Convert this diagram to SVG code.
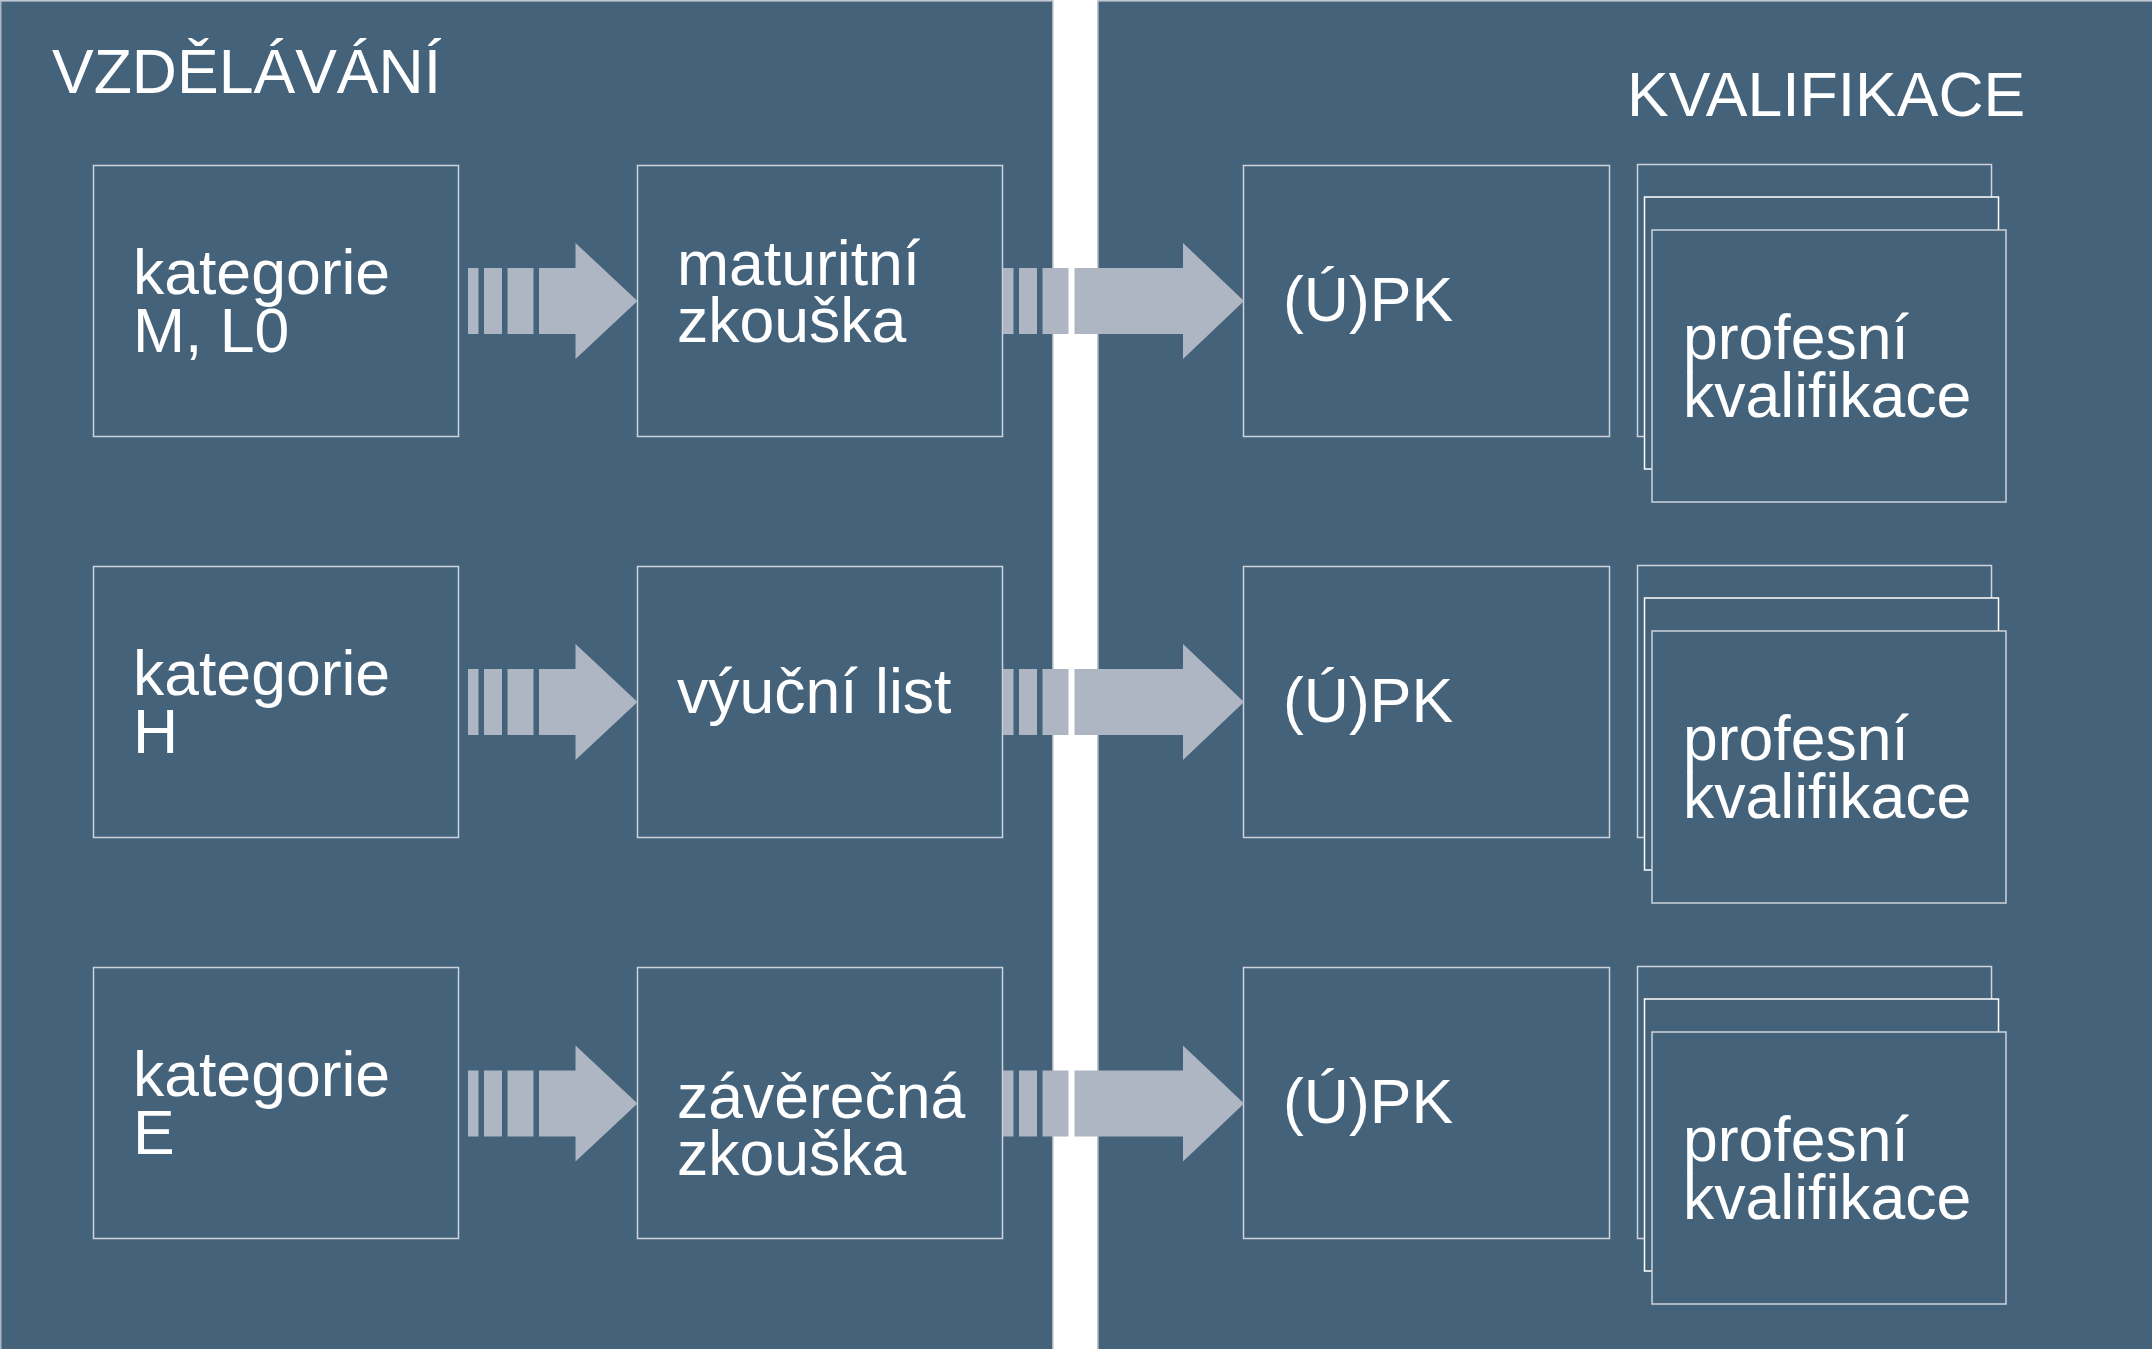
<svg xmlns="http://www.w3.org/2000/svg" width="2152" height="1349" viewBox="0 0 2152 1349">
<defs>
<style>
.panel{fill:#45627b;stroke:#a9b5c2;stroke-width:1.5}
.box{fill:#45627b;stroke:#cdd3da;stroke-width:1.5}
.boxw{fill:#45627b;stroke:#ffffff;stroke-width:1.5}
.t{font-family:"Liberation Sans",Arial,sans-serif;font-size:62.5px;fill:#ffffff}
.arr{fill:#adb6c2}
</style>
<g id="arrowShape">
<rect x="0" y="-33" width="10.5" height="66"/>
<rect x="16" y="-33" width="18" height="66"/>
<rect x="39.5" y="-33" width="26" height="66"/>
</g>
</defs>
<rect width="2152" height="1349" fill="#ffffff"/>
<g id="panel-vzdelavani">
<rect class="panel" x="0.75" y="1" width="1052" height="1350"/>
<text class="t" x="52" y="93">VZDĚLÁVÁNÍ</text>
</g>
<g id="panel-kvalifikace">
<rect class="panel" x="1098" y="1" width="1055" height="1350"/>
<text class="t" x="1627" y="116">KVALIFIKACE</text>
</g>

<g id="node-kat-m">
<rect class="box" x="93.5" y="165.5" width="365" height="271"/>
<text class="t" x="133" y="294">kategorie</text>
<text class="t" x="133" y="351.5">M, L0</text>
</g>
<g id="node-maturitni">
<rect class="box" x="637.5" y="165.5" width="365" height="271"/>
<text class="t" x="677" y="285">maturitní</text>
<text class="t" x="677" y="342">zkouška</text>
</g>
<g id="node-upk-1">
<rect class="box" x="1243.5" y="165.5" width="366" height="271"/>
<text class="t" x="1283" y="321">(Ú)PK</text>
</g>
<g id="node-pk-1">
<rect class="box" x="1637.5" y="164.5" width="354" height="272"/>
<rect class="boxw" x="1644.5" y="197" width="354" height="272"/>
<rect class="box" x="1652" y="230" width="354" height="272"/>
<text class="t" x="1683" y="359">profesní</text>
<text class="t" x="1683" y="416.5">kvalifikace</text>
</g>

<g id="node-kat-h">
<rect class="box" x="93.5" y="566.5" width="365" height="271"/>
<text class="t" x="133" y="695">kategorie</text>
<text class="t" x="133" y="752.5">H</text>
</g>
<g id="node-vyucni">
<rect class="box" x="637.5" y="566.5" width="365" height="271"/>
<text class="t" x="677" y="712.5">výuční list</text>
</g>
<g id="node-upk-2">
<rect class="box" x="1243.5" y="566.5" width="366" height="271"/>
<text class="t" x="1283" y="722">(Ú)PK</text>
</g>
<g id="node-pk-2">
<rect class="box" x="1637.5" y="565.5" width="354" height="272"/>
<rect class="boxw" x="1644.5" y="598" width="354" height="272"/>
<rect class="box" x="1652" y="631" width="354" height="272"/>
<text class="t" x="1683" y="760">profesní</text>
<text class="t" x="1683" y="817.5">kvalifikace</text>
</g>

<g id="node-kat-e">
<rect class="box" x="93.5" y="967.5" width="365" height="271"/>
<text class="t" x="133" y="1096">kategorie</text>
<text class="t" x="133" y="1153.5">E</text>
</g>
<g id="node-zaverecna">
<rect class="box" x="637.5" y="967.5" width="365" height="271"/>
<text class="t" x="677" y="1118">závěrečná</text>
<text class="t" x="677" y="1175">zkouška</text>
</g>
<g id="node-upk-3">
<rect class="box" x="1243.5" y="967.5" width="366" height="271"/>
<text class="t" x="1283" y="1123">(Ú)PK</text>
</g>
<g id="node-pk-3">
<rect class="box" x="1637.5" y="966.5" width="354" height="272"/>
<rect class="boxw" x="1644.5" y="999" width="354" height="272"/>
<rect class="box" x="1652" y="1032" width="354" height="272"/>
<text class="t" x="1683" y="1161">profesní</text>
<text class="t" x="1683" y="1218.5">kvalifikace</text>
</g>

<g id="connectors" class="arr">
<g transform="translate(468,301)">
<use href="#arrowShape"/>
<path d="M71,-33 H107.5 V-58 L169.5,0 L107.5,58 V33 H71 Z"/>
</g>
<g transform="translate(1003,301)">
<use href="#arrowShape"/>
<path d="M71.5,-33 H180 V-58 L241,0 L180,58 V33 H71.5 Z"/>
</g>
<g transform="translate(468,702)">
<use href="#arrowShape"/>
<path d="M71,-33 H107.5 V-58 L169.5,0 L107.5,58 V33 H71 Z"/>
</g>
<g transform="translate(1003,702)">
<use href="#arrowShape"/>
<path d="M71.5,-33 H180 V-58 L241,0 L180,58 V33 H71.5 Z"/>
</g>
<g transform="translate(468,1103.5)">
<use href="#arrowShape"/>
<path d="M71,-33 H107.5 V-58 L169.5,0 L107.5,58 V33 H71 Z"/>
</g>
<g transform="translate(1003,1103.5)">
<use href="#arrowShape"/>
<path d="M71.5,-33 H180 V-58 L241,0 L180,58 V33 H71.5 Z"/>
</g>
</g>
</svg>
